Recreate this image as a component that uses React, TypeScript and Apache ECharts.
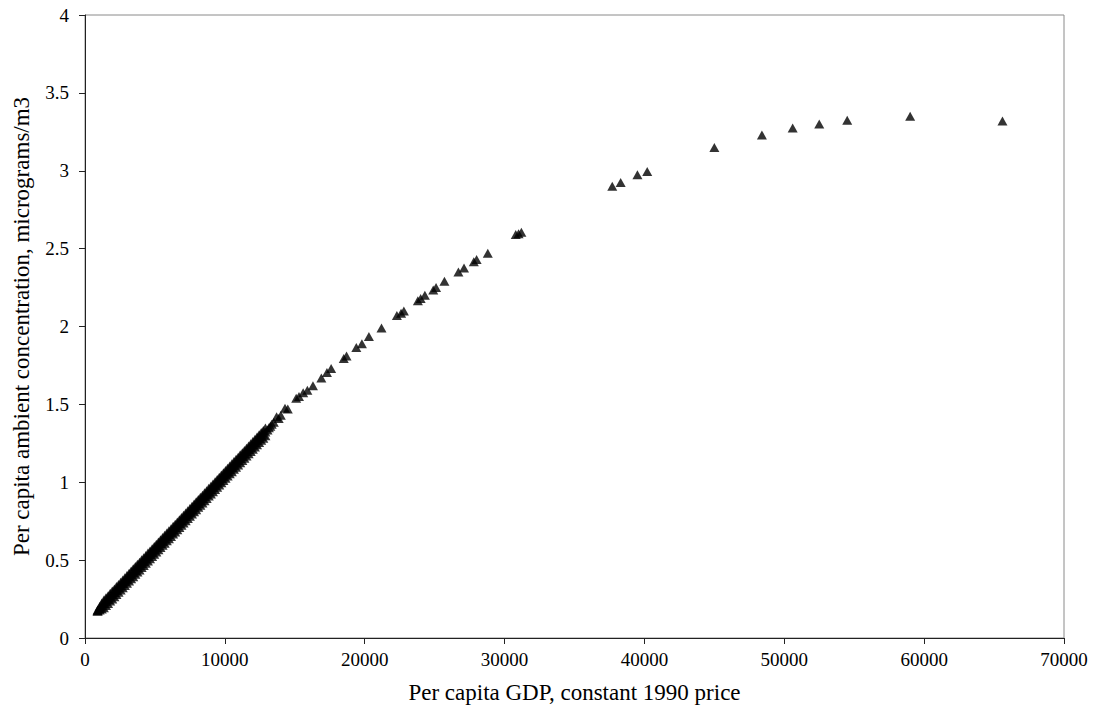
import React, { useEffect, useRef } from "react";
import * as echarts from "echarts";

// Dense band of observations: GDP positions and three readings across the band's thickness
const gdpDense = [
  900, 1050, 1200, 1350, 1500, 1650, 1800, 1950, 2100, 2250,
  2400, 2550, 2700, 2850, 3000, 3150, 3300, 3450, 3600, 3750,
  3900, 4050, 4200, 4350, 4500, 4650, 4800, 4950, 5100, 5250,
  5400, 5550, 5700, 5850, 6000, 6150, 6300, 6450, 6600, 6750,
  6900, 7050, 7200, 7350, 7500, 7650, 7800, 7950, 8100, 8250,
  8400, 8550, 8700, 8850, 9000, 9150, 9300, 9450, 9600, 9750,
  9900, 10050, 10200, 10350, 10500, 10650, 10800, 10950, 11100, 11250,
  11400, 11550, 11700, 11850, 12000, 12150, 12300, 12450, 12600, 12750, 12900,
];
const concDenseMid = [
  0.175, 0.19, 0.204, 0.219, 0.233, 0.247, 0.262, 0.276, 0.29, 0.305,
  0.319, 0.333, 0.348, 0.362, 0.376, 0.391, 0.405, 0.419, 0.434, 0.448,
  0.462, 0.477, 0.491, 0.505, 0.52, 0.534, 0.548, 0.563, 0.577, 0.591,
  0.606, 0.62, 0.634, 0.649, 0.663, 0.677, 0.692, 0.706, 0.72, 0.735,
  0.749, 0.763, 0.778, 0.792, 0.806, 0.821, 0.835, 0.849, 0.864, 0.878,
  0.892, 0.907, 0.921, 0.936, 0.95, 0.964, 0.979, 0.993, 1.007, 1.022,
  1.036, 1.05, 1.065, 1.079, 1.093, 1.108, 1.122, 1.136, 1.151, 1.165,
  1.179, 1.194, 1.208, 1.222, 1.237, 1.251, 1.265, 1.28, 1.294, 1.308, 1.323,
];
const concDenseUpper = [
  0.18, 0.202, 0.224, 0.244, 0.258, 0.272, 0.287, 0.301, 0.315, 0.33,
  0.344, 0.358, 0.373, 0.387, 0.401, 0.416, 0.43, 0.444, 0.459, 0.473,
  0.487, 0.502, 0.516, 0.53, 0.545, 0.559, 0.573, 0.588, 0.602, 0.616,
  0.631, 0.645, 0.659, 0.674, 0.688, 0.702, 0.717, 0.731, 0.745, 0.76,
  0.774, 0.788, 0.803, 0.817, 0.831, 0.846, 0.86, 0.874, 0.889, 0.903,
  0.917, 0.932, 0.946, 0.961, 0.975, 0.989, 1.004, 1.018, 1.032, 1.047,
  1.061, 1.075, 1.09, 1.104, 1.118, 1.133, 1.147, 1.161, 1.176, 1.19,
  1.204, 1.219, 1.233, 1.247, 1.262, 1.276, 1.29, 1.305, 1.319, 1.333, 1.348,
];
const concDenseLower = [
  0.172, 0.18, 0.186, 0.194, 0.208, 0.222, 0.237, 0.251, 0.265, 0.28,
  0.294, 0.308, 0.323, 0.337, 0.351, 0.366, 0.38, 0.394, 0.409, 0.423,
  0.437, 0.452, 0.466, 0.48, 0.495, 0.509, 0.523, 0.538, 0.552, 0.566,
  0.581, 0.595, 0.609, 0.624, 0.638, 0.652, 0.667, 0.681, 0.695, 0.71,
  0.724, 0.738, 0.753, 0.767, 0.781, 0.796, 0.81, 0.824, 0.839, 0.853,
  0.867, 0.882, 0.896, 0.911, 0.925, 0.939, 0.954, 0.968, 0.982, 0.997,
  1.011, 1.025, 1.04, 1.054, 1.068, 1.083, 1.097, 1.111, 1.126, 1.14,
  1.154, 1.169, 1.183, 1.197, 1.212, 1.226, 1.24, 1.255, 1.269, 1.283, 1.298,
];

// Upper end of the band, where single markers start to separate
const gdpTail = [13050, 13150, 13250, 13350, 13500, 13700, 13850, 14000, 14300, 14500];
const concTail = [1.335, 1.35, 1.36, 1.372, 1.385, 1.42, 1.41, 1.43, 1.475, 1.47];

// Sparse high-income observations
const gdpSparse = [
  15100, 15300, 15600, 15900, 16300, 16900, 17300, 17600, 18500, 18700, 19400, 19800, 20300, 21200,
  22300, 22600, 22800, 23800, 24000, 24300, 24900, 25100, 25700, 26700, 27100, 27800, 28000, 28800,
  30800, 31000, 31200, 37700, 38300, 39500, 40200, 45000, 48400, 50600, 52500, 54500, 59000, 65600,
];
const concSparse = [
  1.54, 1.55, 1.575, 1.59, 1.62, 1.67, 1.705, 1.73, 1.795, 1.81, 1.865, 1.89, 1.935, 1.99,
  2.07, 2.085, 2.1, 2.165, 2.18, 2.2, 2.235, 2.25, 2.29, 2.35, 2.375, 2.415, 2.43, 2.47,
  2.59, 2.595, 2.605, 2.9, 2.925, 2.975, 2.995, 3.15, 3.23, 3.275, 3.3, 3.325, 3.35, 3.32,
];

const xTitle = "Per capita GDP, constant 1990 price";
const yTitle = "Per capita ambient concentration, micrograms/m3";

const FONT = "Liberation Serif";

export default function App() {
  const ref = useRef<HTMLDivElement>(null);
  useEffect(() => {
    if (!ref.current) return;
    const chart = echarts.init(ref.current, undefined, { renderer: "svg" });
    const pts = [
      ...gdpDense.map((x, i) => [x, concDenseUpper[i]]),
      ...gdpDense.map((x, i) => [x, concDenseMid[i]]),
      ...gdpDense.map((x, i) => [x, concDenseLower[i]]),
      ...gdpTail.map((x, i) => [x, concTail[i]]),
      ...gdpSparse.map((x, i) => [x, concSparse[i]]),
    ];
    chart.setOption({
      animation: false,
      backgroundColor: "#ffffff",
      grid: {
        left: 85,
        top: 15,
        width: 979,
        height: 623,
        show: true,
        borderColor: "#8a8a8a",
        borderWidth: 1,
        backgroundColor: "transparent",
      },
      xAxis: {
        type: "value",
        min: 0,
        max: 70000,
        interval: 10000,
        name: xTitle,
        nameLocation: "middle",
        nameGap: 43,
        nameTextStyle: { fontFamily: FONT, fontSize: 23, color: "#000" },
        axisLine: { show: true, onZero: false, lineStyle: { color: "#222", width: 1 } },
        axisTick: { show: true, length: 6, lineStyle: { color: "#222" } },
        axisLabel: {
          fontFamily: FONT,
          fontSize: 19,
          color: "#000",
          margin: 12,
          formatter: (v: number) => String(v),
        },
        splitLine: { show: false },
      },
      yAxis: {
        type: "value",
        min: 0,
        max: 4,
        interval: 0.5,
        name: yTitle,
        nameLocation: "middle",
        nameGap: 52,
        nameTextStyle: { fontFamily: FONT, fontSize: 23, color: "#000" },
        axisLine: { show: true, onZero: false, lineStyle: { color: "#222", width: 1 } },
        axisTick: { show: true, length: 6, lineStyle: { color: "#222" } },
        axisLabel: { fontFamily: FONT, fontSize: 19, color: "#000", margin: 16 },
        splitLine: { show: false },
      },
      series: [
        {
          type: "scatter",
          data: pts,
          symbol: "triangle",
          symbolSize: [10, 9],
          large: false,
          itemStyle: { color: "#000" },
        },
      ],
    });
    return () => chart.dispose();
  }, []);
  return (
    <div
      ref={ref}
      style={{ position: "fixed", left: 0, top: 0, width: 1096, height: 726, background: "#fff" }}
    />
  );
}
